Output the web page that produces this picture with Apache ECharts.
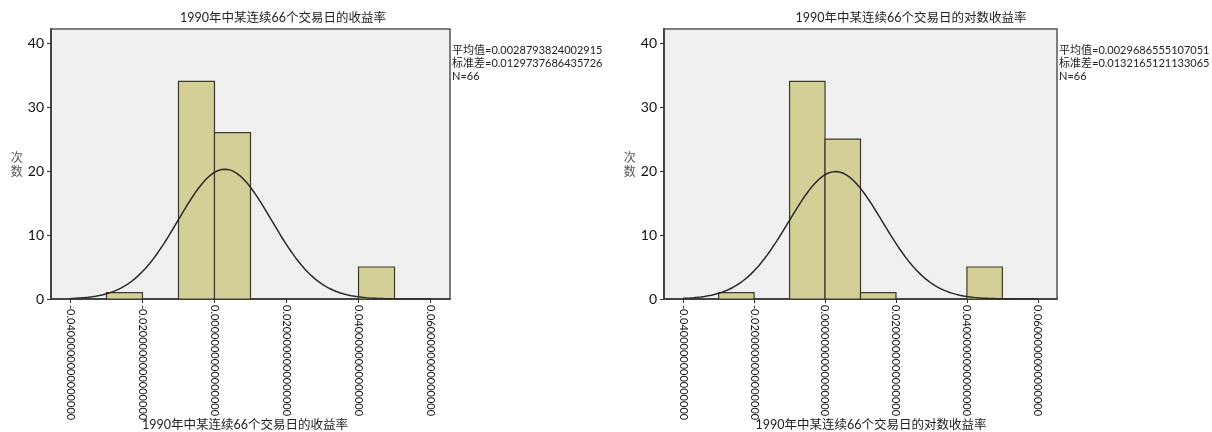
<!DOCTYPE html>
<html>
<head>
<meta charset="utf-8">
<script src="https://cdn.jsdelivr.net/npm/echarts@6/dist/echarts.min.js"></script>
<style>
html,body{margin:0;padding:0;background:#fff;}
#chart{width:1212px;height:432px;}
</style>
</head>
<body>
<div id="chart"></div>
<script>
// ---- data ----
const leftTitle = '1990年中某连续66个交易日的收益率';
const rightTitle = '1990年中某连续66个交易日的对数收益率';
const binWidth = 0.01;
const leftBinStarts = [-0.03, -0.01, 0.00, 0.04];
const leftCounts = [1, 34, 26, 5];
const rightBinStarts = [-0.03, -0.01, 0.00, 0.01, 0.04];
const rightCounts = [1, 34, 25, 1, 5];
const leftMean = 0.0028793824002915;
const leftSD = 0.0129737686435726;
const rightMean = 0.0029686555107051;
const rightSD = 0.0132165121133065;
const sampleN = 66;
const leftStats = ['平均值=0.0028793824002915', '标准差=0.0129737686435726', 'N=66'];
const rightStats = ['平均值=0.0029686555107051', '标准差=0.0132165121133065', 'N=66'];
const xTickValues = [-0.04, -0.02, 0.00, 0.02, 0.04, 0.06];
const xTickLabels = ['-0.0400000000000000', '-0.0200000000000000', '0.0000000000000000',
                     '0.0200000000000000', '0.0400000000000000', '0.0600000000000000'];
const yTickValues = [0, 10, 20, 30, 40];
const yAxisName = '次\n数';

// normal curve from the stated mean / sd / N (SPSS overlay)
function normalCurve(mean, sd) {
  const pts = [];
  for (let i = 0; i <= 200; i++) {
    const x = -0.04 + i * 0.0005;
    const z = (x - mean) / sd;
    pts.push([x, sampleN * binWidth * Math.exp(-0.5 * z * z) / (sd * Math.sqrt(2 * Math.PI))]);
  }
  return pts;
}

const latin = 'Lato, "Noto Sans CJK SC", sans-serif';
const cjk = '"Noto Sans CJK SC", Lato, sans-serif';

const grids = [
  {left: 51, top: 29, width: 399, height: 270},
  {left: 664, top: 29, width: 393, height: 270}
];

function xAxisFor(gi) {
  return {
    type: 'value', gridIndex: gi, min: -0.0454, max: 0.0654,
    splitLine: {show: false},
    axisLine: {show: true, onZero: false, lineStyle: {color: '#444', width: 2}},
    axisTick: {show: true, customValues: xTickValues, length: 4, lineStyle: {color: '#333', width: 1}},
    axisLabel: {
      show: true, customValues: xTickValues, rotate: -90, margin: 6,
      color: '#111', fontFamily: latin, fontSize: 11,
      formatter: function (v) {
        const i = xTickValues.findIndex(t => Math.abs(t - v) < 1e-9);
        return i >= 0 ? xTickLabels[i] : '';
      }
    }
  };
}
function yAxisFor(gi) {
  return {
    type: 'value', gridIndex: gi, min: 0, max: 42.2, interval: 10,
    splitLine: {show: false},
    name: yAxisName, nameLocation: 'middle', nameRotate: 0, nameGap: 28,
    nameTextStyle: {color: '#555', fontFamily: cjk, fontSize: 12, lineHeight: 14},
    axisLine: {show: true, onZero: false, lineStyle: {color: '#444', width: 2}},
    axisTick: {show: true, customValues: yTickValues, length: 4, lineStyle: {color: '#333', width: 1}},
    axisLabel: {show: true, customValues: yTickValues, margin: 7, color: '#111', fontFamily: latin, fontSize: 14}
  };
}

function histSeries(gi, starts, counts) {
  return {
    type: 'custom', xAxisIndex: gi, yAxisIndex: gi,
    data: starts.map((s, i) => [s, s + binWidth, counts[i]]),
    encode: {x: [0, 1], y: 2},
    renderItem: function (params, api) {
      const p0 = api.coord([api.value(0), 0]);
      const p1 = api.coord([api.value(1), api.value(2)]);
      return {
        type: 'rect',
        shape: {x: p0[0], y: p1[1], width: p1[0] - p0[0], height: p0[1] - p1[1]},
        style: {fill: '#d4cf97', stroke: '#3b3a2c', lineWidth: 1.2}
      };
    },
    z: 2
  };
}
function curveSeries(gi, mean, sd) {
  return {
    type: 'line', xAxisIndex: gi, yAxisIndex: gi,
    data: normalCurve(mean, sd), showSymbol: false, symbol: 'none',
    lineStyle: {color: '#2a2a2a', width: 1.5}, z: 3, silent: true
  };
}

function textEl(x, y, text, size, align, font, color) {
  return {type: 'text', x: x, y: y, style: {text: text, fontSize: size, fontFamily: font,
    fill: color || '#222', textAlign: align || 'center', textVerticalAlign: 'middle'}};
}

const graphics = [
  textEl(283, 18, leftTitle, 12.5, 'center', latin, '#222'),
  textEl(911, 18, rightTitle, 12.5, 'center', latin, '#222'),
  textEl(245, 425, leftTitle, 12.5, 'center', latin, '#222'),
  textEl(871, 425, rightTitle, 12.5, 'center', latin, '#222')
];
leftStats.forEach((t, i) => graphics.push(textEl(452, 50 + i * 13, t, 11, 'left', latin, '#222')));
rightStats.forEach((t, i) => graphics.push(textEl(1059, 50 + i * 13, t, 11, 'left', latin, '#222')));

const chart = echarts.init(document.getElementById('chart'), null, {renderer: 'canvas'});
chart.setOption({
  animation: false,
  backgroundColor: '#ffffff',
  grid: grids.map(g => Object.assign({show: true, backgroundColor: '#f0f0f0', borderColor: '#555', borderWidth: 1.5}, g)),
  xAxis: [xAxisFor(0), xAxisFor(1)],
  yAxis: [yAxisFor(0), yAxisFor(1)],
  series: [
    histSeries(0, leftBinStarts, leftCounts),
    curveSeries(0, leftMean, leftSD),
    histSeries(1, rightBinStarts, rightCounts),
    curveSeries(1, rightMean, rightSD)
  ],
  graphic: graphics
});
</script>
</body>
</html>
